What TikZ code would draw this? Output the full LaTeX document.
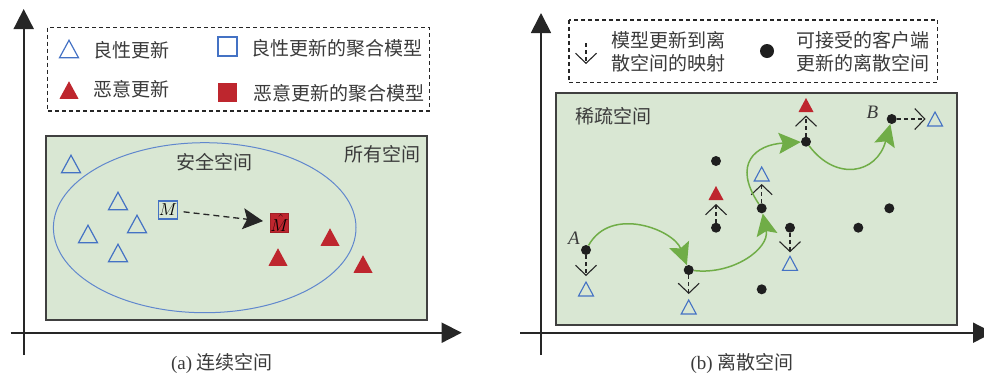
\documentclass[tikz,border=0pt]{standalone}
\usepackage{fontspec}
\setmainfont{Liberation Serif}
\newfontfamily\cjk{Noto Sans CJK SC}
\usetikzlibrary{arrows.meta,shapes.geometric}
\definecolor{bgreen}{RGB}{217,231,211}
\definecolor{ublue}{RGB}{68,114,196}
\definecolor{ured}{RGB}{190,38,46}
\definecolor{agreen}{RGB}{112,173,71}
\definecolor{txt}{RGB}{58,58,58}
\definecolor{axiscol}{RGB}{38,38,38}
\begin{document}
\begin{tikzpicture}[x=1pt,y=-1pt,
  lab/.style={inner sep=0pt, text=txt, font=\cjk\fontsize{19}{23}\selectfont},
  caplab/.style={inner sep=0pt, text=txt, font=\fontsize{19}{23}\selectfont},
  axisline/.style={draw=axiscol, line width=1.8pt, -{Triangle[length=20pt,width=20pt]}},
  spacebox/.style={draw=black!75, line width=1.5pt, fill=bgreen},
  legbox/.style={draw=black!85, line width=1.1pt, dash pattern=on 4pt off 3pt},
  btri/.style={draw=ublue, line width=1.2pt, miter limit=10},
  rtri/.style={fill=ured},
  bigtri/.pic={\path[pic actions] (-9.5,8.75) -- (0,-8.75) -- (9.5,8.75) -- cycle;
    \coordinate (-top) at (0,-8.75); \coordinate (-bot) at (0,8.75);},
  smalltri/.pic={\path[pic actions] (-7.5,7) -- (0,-7) -- (7.5,7) -- cycle;
    \coordinate (-top) at (0,-7); \coordinate (-bot) at (0,7); \coordinate (-left) at (-4.5,1);},
  dot/.style={circle, fill=black!88, inner sep=0pt, minimum size=10pt},
  maparrow/.style={draw=black!85, line width=1.1pt, dash pattern=on 4pt off 3pt, -{Straight Barb[length=10pt,width=21pt]}},
  garrow/.style={draw=agreen, line width=1.5pt, -{Stealth[length=22pt,width=21pt,inset=4pt,fill=agreen]}},
]
\useasboundingbox (0,0) rectangle (984,376);

% ---------------- (a) ----------------
\coordinate (ayb) at (23.7,355);
\coordinate (ayt) at (23.7,9);
\coordinate (axl) at (10.7,332.7);
\coordinate (axr) at (461.7,332.7);
\draw[axisline] (ayb) -- (ayt);
\draw[axisline] (axl) -- (axr);

\draw[legbox] (47.7,27.7) rectangle (429.3,111);
\pic[btri] (lg1) at (69,49) {bigtri};
\node[lab, anchor=west] (lg1t) at (93,50) {良性更新};
\pic[rtri] (lg2) at (69,90) {bigtri};
\node[lab, anchor=west] (lg2t) at (93,89) {恶意更新};
\node[draw=ublue, line width=1.2pt, minimum size=19pt, inner sep=0pt] (lg3) at (227.5,46.5) {};
\node[lab, anchor=west] (lg3t) at (251,48) {良性更新的聚合模型};
\node[fill=ured, minimum size=19pt, inner sep=0pt] (lg4) at (227.5,92.5) {};
\node[lab, anchor=west] (lg4t) at (253,93) {恶意更新的聚合模型};

\draw[spacebox] (46,136) rectangle (427,320);
\draw[ublue!85, line width=1pt] (204.7,227.7) ellipse [x radius=151.3, y radius=85];
\node[lab] (safe) at (214,162) {安全空间};
\node[lab] (all) at (382,154) {所有空间};

\pic[btri] (b1) at (71,164) {bigtri};
\pic[btri] (b2) at (118,201) {bigtri};
\pic[btri] (b3) at (137,224) {bigtri};
\pic[btri] (b4) at (88,234) {bigtri};
\pic[btri] (b5) at (118,253) {bigtri};
\pic[rtri] (r1) at (330,237) {bigtri};
\pic[rtri] (r2) at (278,257) {bigtri};
\pic[rtri] (r3) at (363,264) {bigtri};

\node[draw=ublue, line width=1.1pt, minimum size=18pt, inner sep=0pt, font=\fontsize{17}{17}\selectfont] (M) at (168,210) {$M$};
\node[fill=ured, draw=ured!85!black, line width=0.6pt, minimum size=18.5pt, inner sep=0pt, font=\fontsize{17}{17}\selectfont] (Mh) at (279.5,223) {$\hat{M}$};
\draw[draw=black!85, line width=1.3pt, dash pattern=on 6pt off 4pt, -{Stealth[length=20pt,width=21pt,inset=4pt]}, shorten <=6pt, shorten >=7pt] (M) -- (Mh);

\node[caplab] (capa) at (222,363) {(a) {\cjk 连续空间}};

% ---------------- (b) ----------------
\coordinate (byb) at (541,355);
\coordinate (byt) at (541,13);
\coordinate (bxl) at (520,332.7);
\coordinate (bxr) at (993,332.7);
\draw[axisline] (byb) -- (byt);
\draw[axisline] (bxl) -- (bxr);

\draw[legbox] (569,20) rectangle (937.7,82.7);
\coordinate (lma) at (586,43);
\coordinate (lmb) at (586,64);
\draw[maparrow] (lma) -- (lmb);
\node[lab, anchor=west, align=left] (lm1) at (611,51.5) {模型更新到离\\散空间的映射};
\node[dot, minimum size=14pt] (ldot) at (767,51) {};
\node[lab, anchor=west, align=left] (lm2) at (796,51.5) {可接受的客户端\\更新的离散空间};

\draw[spacebox] (556,93) rectangle (957,325);
\node[lab] (sparse) at (613,116) {稀疏空间};

\node[dot] (dA) at (586,250) {};
\node[dot] (d2) at (688.7,270) {};
\node[dot] (d3) at (716,161) {};
\node[dot] (d4) at (716,227.7) {};
\node[dot] (d5) at (761.7,208.3) {};
\node[dot] (d6) at (761.7,289.3) {};
\node[dot] (d7) at (790,227.7) {};
\node[dot] (d8) at (806,141.7) {};
\node[dot] (d9) at (858.3,227.7) {};
\node[dot] (d10) at (889.3,208.3) {};
\node[dot] (dB) at (891.7,119) {};
\node[inner sep=0pt, font=\itshape\fontsize{19}{19}\selectfont, text=txt] (labA) at (574,238) {A};
\node[inner sep=0pt, font=\itshape\fontsize{19}{19}\selectfont, text=txt] (labB) at (872.3,112.7) {B};

\pic[btri, line width=1.1pt] (tA) at (586,289) {smalltri};
\pic[btri, line width=1.1pt] (t2) at (688.7,307) {smalltri};
\pic[rtri] (t4) at (716,193) {smalltri};
\pic[btri, line width=1.1pt] (t5) at (761.7,174) {smalltri};
\pic[btri, line width=1.1pt] (t7) at (790,263.3) {smalltri};
\pic[rtri] (t8) at (806,105) {smalltri};
\pic[btri, line width=1.1pt] (tB) at (935,119) {smalltri};

\draw[maparrow, shorten >=6pt] (dA) -- (tA-top);
\draw[maparrow, shorten >=6pt] (d2) -- (t2-top);
\draw[maparrow, shorten >=4pt] (d4) -- (t4-bot);
\draw[maparrow, shorten >=3pt] (d5) -- (t5-bot);
\draw[maparrow, shorten >=4pt] (d7) -- (t7-top);
\draw[maparrow, shorten >=3.5pt] (d8) -- (t8-bot);
\draw[maparrow, shorten >=5pt] (dB) -- (dB -| tB-left);

\draw[garrow] (dA) .. controls +(25,-45) and +(-15,-40) .. (d2);
\draw[garrow] (d2) .. controls +(45,5) and +(8,40) .. (d5);
\draw[garrow] (d5) .. controls +(-30,-45) and +(-50,3) .. (d8);
\draw[garrow] (d8) .. controls +(30,40) and +(-15,55) .. (dB);

\node[caplab] (capb) at (742,363) {(b) {\cjk 离散空间}};
\end{tikzpicture}
\end{document}
